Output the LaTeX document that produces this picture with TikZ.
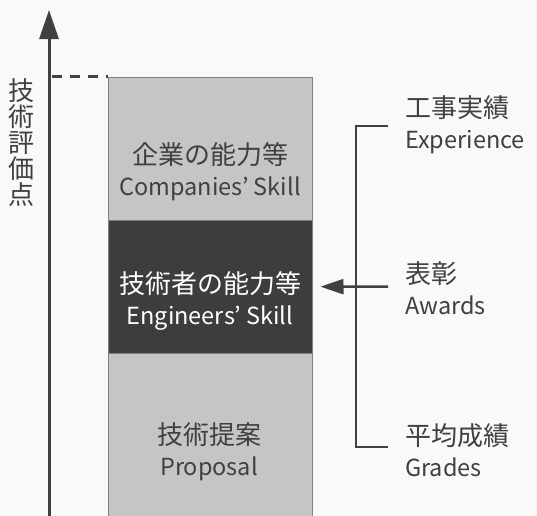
\documentclass[tikz,border=0pt]{standalone}
\usepackage{fontspec}
\setmainfont{Noto Sans CJK JP}
\usetikzlibrary{arrows.meta}

\definecolor{ink}{HTML}{404040}
\definecolor{paper}{HTML}{F9F9F9}
\definecolor{edge}{HTML}{808080}
\definecolor{paleblock}{HTML}{C6C5C3}
\definecolor{darkblock}{HTML}{3D3D3D}

% Japanese line over its English line
\newcommand\jaen[2]{{\fontsize{26}{31}\selectfont #1}\\{\fontsize{23.5}{31}\selectfont #2}}

\begin{document}
\begin{tikzpicture}[
    x = 1pt, y = -1pt,
    every node/.style = {text = ink, inner sep = 0pt, font = \fontsize{25}{31}\selectfont},
    part/.style = {draw = edge, line width = 1pt, minimum width = 204pt, anchor = north},
    light part/.style = {part, fill = paleblock},
    dark part/.style = {part, fill = darkblock},
    item label/.style = {anchor = west, align = left},
    thick line/.style = {draw = ink, line width = 2.5pt},
  ]
  \fill [paper] (0,0) rectangle (537,515);
  \clip (0,0) rectangle (537,515);

  % score axis
  \coordinate (axis foot) at (49,520);
  \coordinate (axis top) at (49,10);
  \draw [thick line, line width = 3pt, -{Triangle[length=29pt,width=19pt]}]
        (axis foot) -- (axis top);
  \node [align = center, font = \fontsize{26}{26}\selectfont] (score label) at (22,143)
        {技\\術\\評\\価\\点};

  % stacked score column
  \node [light part, minimum height = 143.5pt] (companies part) at (210,76.5) {};
  \node [dark part, minimum height = 133pt] (engineers part) at (210,220) {};
  \node [light part, minimum height = 175pt] (proposal part) at (210,353) {};

  \node [align = center] (companies label) at (210,172) {\jaen{企業の能力等}{Companies’ Skill}};
  \node [align = center, text = white] (engineers label) at (210,301) {\jaen{技術者の能力等}{Engineers’ Skill}};
  \node [align = center] (proposal label) at (209,452) {\jaen{技術提案}{Proposal}};

  \draw [thick line, dash pattern = on 10pt off 8pt] (52,76.5) -- (companies part.north west);

  % items of the engineers' score
  \node [item label] (experience) at (405,125) {\jaen{工事実績}{Experience}};
  \node [item label] (awards) at (405,288) {\jaen{表彰}{Awards}};
  \node [item label] (grades) at (405,450) {\jaen{平均成績}{Grades}};

  \coordinate (bracket top) at (388,126);
  \coordinate (bracket bottom) at (388,447);
  \coordinate (bracket middle) at (388,286.5);
  \draw [thick line] (bracket top) -- (356,126) -- (356,447) -- (bracket bottom);
  \draw [thick line, -{Triangle[length=23pt,width=15pt]}, shorten >= 8pt]
        (bracket middle) -- (engineers part);
\end{tikzpicture}
\end{document}
